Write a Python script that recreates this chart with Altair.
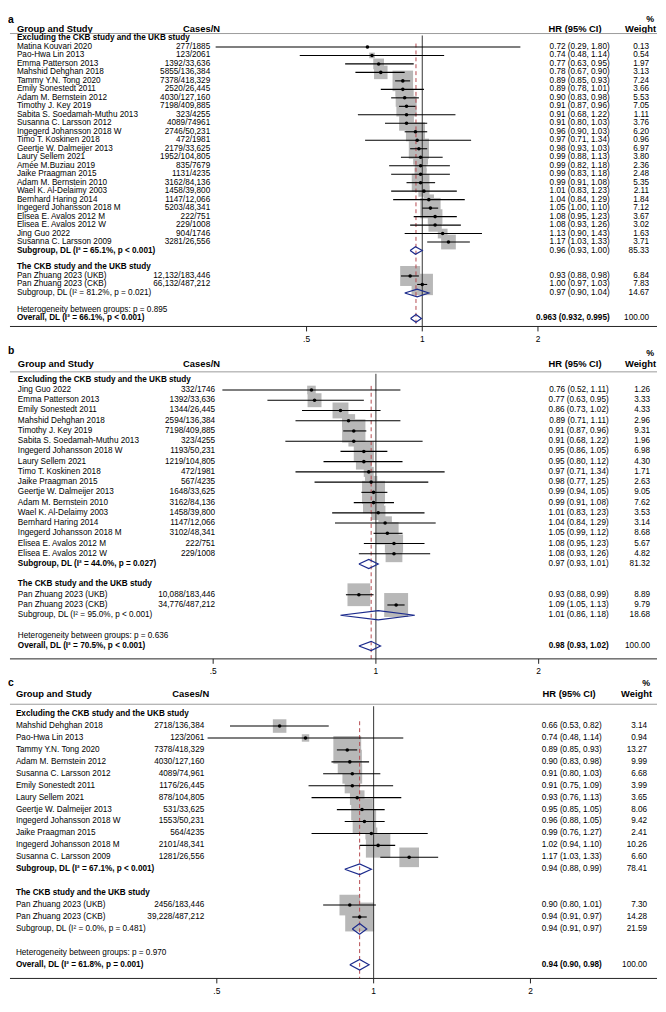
import altair as alt
import numpy as np
import pandas as pd

FONT = "Liberation Sans"
W = 658
FS = 8.3

G1_TITLE = "Excluding the CKB study and the UKB study"
G2_TITLE = "The CKB study and the UKB study"
TICKS = [0.5, 1, 2]
TICK_LABELS = [".5", "1", "2"]
PZ_NAMES = ["Pan Zhuang 2023 (UKB)", "Pan Zhuang 2023 (CKB)"]

# ---------------- panel a ----------------
A_NAMES = ["Matina Kouvari 2020", "Pao-Hwa Lin 2013", "Emma Patterson 2013", "Mahshid Dehghan 2018",
           "Tammy Y.N. Tong 2020", "Emily Sonestedt 2011", "Adam M. Bernstein 2012", "Timothy J. Key 2019",
           "Sabita S. Soedamah-Muthu 2013", "Susanna C. Larsson 2012", "Ingegerd Johansson 2018 W",
           "Timo T. Koskinen 2018", "Geertje W. Dalmeijer 2013", "Laury Sellem 2021", "Amée M.Buziau 2019",
           "Jaike Praagman 2015", "Adam M. Bernstein 2010", "Wael K. Al-Delaimy 2003", "Bernhard Haring 2014",
           "Ingegerd Johansson 2018 M", "Elisea E. Avalos 2012 M", "Elisea E. Avalos 2012 W", "Jing Guo 2022",
           "Susanna C. Larsson 2009"]
A_CASES = ["277/1885", "123/2061", "1392/33,636", "5855/136,384", "7378/418,329", "2520/26,445",
           "4030/127,160", "7198/409,885", "323/4255", "4089/74961", "2746/50,231", "472/1981",
           "2179/33,625", "1952/104,805", "835/7679", "1131/4235", "3162/84,136", "1458/39,800",
           "1147/12,066", "5203/48,341", "222/751", "229/1008", "904/1746", "3281/26,556"]
A_HR = [0.72, 0.74, 0.77, 0.78, 0.89, 0.89, 0.90, 0.91, 0.91, 0.91, 0.96, 0.97, 0.98, 0.99, 0.99, 0.99,
        0.99, 1.01, 1.04, 1.05, 1.08, 1.08, 1.13, 1.17]
A_LO = [0.29, 0.48, 0.63, 0.67, 0.85, 0.78, 0.83, 0.87, 0.68, 0.80, 0.90, 0.71, 0.93, 0.88, 0.82, 0.83,
        0.91, 0.83, 0.84, 1.00, 0.95, 0.93, 0.90, 1.03]
A_HI = [1.80, 1.14, 0.95, 0.90, 0.93, 1.01, 0.98, 0.96, 1.22, 1.03, 1.03, 1.34, 1.03, 1.13, 1.18, 1.18,
        1.08, 1.23, 1.29, 1.10, 1.23, 1.26, 1.43, 1.33]
A_W = [0.13, 0.54, 1.97, 3.13, 7.24, 3.66, 5.53, 7.05, 1.11, 3.76, 6.20, 0.96, 6.97, 3.80, 2.36, 2.48,
       5.35, 2.11, 1.84, 7.12, 3.67, 3.02, 1.63, 3.71]
A_PZ_CASES = ["12,132/183,446", "66,132/487,212"]
A_PZ_HR = [0.93, 1.00]
A_PZ_LO = [0.88, 0.97]
A_PZ_HI = [0.98, 1.03]
A_PZ_W = [6.84, 7.83]
A_SUB_LABELS = ["Subgroup, DL (I² = 65.1%, p < 0.001)", "Subgroup, DL (I² = 81.2%, p = 0.021)"]
A_SUB_HR = [0.96, 0.97]
A_SUB_LO = [0.93, 0.90]
A_SUB_HI = [1.00, 1.04]
A_SUB_W = [85.33, 14.67]
A_HET = "Heterogeneity between groups: p = 0.895"
A_OVR_LABEL = "Overall, DL (I² = 66.1%, p < 0.001)"
A_OVR = [0.963, 0.932, 0.995]
A_OVR_DIGITS = 3

# ---------------- panel b ----------------
B_NAMES = ["Jing Guo 2022", "Emma Patterson 2013", "Emily Sonestedt 2011", "Mahshid Dehghan 2018",
           "Timothy J. Key 2019", "Sabita S. Soedamah-Muthu 2013", "Ingegerd Johansson 2018 W",
           "Laury Sellem 2021", "Timo T. Koskinen 2018", "Jaike Praagman 2015", "Geertje W. Dalmeijer 2013",
           "Adam M. Bernstein 2010", "Wael K. Al-Delaimy 2003", "Bernhard Haring 2014",
           "Ingegerd Johansson 2018 M", "Elisea E. Avalos 2012 M", "Elisea E. Avalos 2012 W"]
B_CASES = ["332/1746", "1392/33,636", "1344/26,445", "2594/136,384", "7198/409,885", "323/4255",
           "1193/50,231", "1219/104,805", "472/1981", "567/4235", "1648/33,625", "3162/84,136",
           "1458/39,800", "1147/12,066", "3102/48,341", "222/751", "229/1008"]
B_HR = [0.76, 0.77, 0.86, 0.89, 0.91, 0.91, 0.95, 0.95, 0.97, 0.98, 0.99, 0.99, 1.01, 1.04, 1.05, 1.08, 1.08]
B_LO = [0.52, 0.63, 0.73, 0.71, 0.87, 0.68, 0.86, 0.80, 0.71, 0.77, 0.94, 0.91, 0.83, 0.84, 0.99, 0.95, 0.93]
B_HI = [1.11, 0.95, 1.02, 1.11, 0.96, 1.22, 1.05, 1.12, 1.34, 1.25, 1.05, 1.08, 1.23, 1.29, 1.12, 1.23, 1.26]
B_W = [1.26, 3.33, 4.33, 2.96, 9.31, 1.96, 6.98, 4.30, 1.71, 2.63, 9.05, 7.62, 3.53, 3.14, 8.68, 5.67, 4.82]
B_PZ_CASES = ["10,088/183,446", "34,776/487,212"]
B_PZ_HR = [0.93, 1.09]
B_PZ_LO = [0.88, 1.05]
B_PZ_HI = [0.99, 1.13]
B_PZ_W = [8.89, 9.79]
B_SUB_LABELS = ["Subgroup, DL (I² = 44.0%, p = 0.027)", "Subgroup, DL (I² = 95.0%, p < 0.001)"]
B_SUB_HR = [0.97, 1.01]
B_SUB_LO = [0.93, 0.86]
B_SUB_HI = [1.01, 1.18]
B_SUB_W = [81.32, 18.68]
B_HET = "Heterogeneity between groups: p = 0.636"
B_OVR_LABEL = "Overall, DL (I² = 70.5%, p < 0.001)"
B_OVR = [0.98, 0.93, 1.02]
B_OVR_DIGITS = 2

# ---------------- panel c ----------------
C_NAMES = ["Mahshid Dehghan 2018", "Pao-Hwa Lin 2013", "Tammy Y.N. Tong 2020", "Adam M. Bernstein 2012",
           "Susanna C. Larsson 2012", "Emily Sonestedt 2011", "Laury Sellem 2021", "Geertje W. Dalmeijer 2013",
           "Ingegerd Johansson 2018 W", "Jaike Praagman 2015", "Ingegerd Johansson 2018 M",
           "Susanna C. Larsson 2009"]
C_CASES = ["2718/136,384", "123/2061", "7378/418,329", "4030/127,160", "4089/74,961", "1176/26,445",
           "878/104,805", "531/33,625", "1553/50,231", "564/4235", "2101/48,341", "1281/26,556"]
C_HR = [0.66, 0.74, 0.89, 0.90, 0.91, 0.91, 0.93, 0.95, 0.96, 0.99, 1.02, 1.17]
C_LO = [0.53, 0.48, 0.85, 0.83, 0.80, 0.75, 0.76, 0.85, 0.88, 0.76, 0.94, 1.03]
C_HI = [0.82, 1.14, 0.93, 0.98, 1.03, 1.09, 1.13, 1.05, 1.05, 1.27, 1.10, 1.33]
C_W = [3.14, 0.94, 13.27, 9.99, 6.68, 3.99, 3.65, 8.06, 9.42, 2.41, 10.26, 6.60]
C_PZ_CASES = ["2456/183,446", "39,228/487,212"]
C_PZ_HR = [0.90, 0.94]
C_PZ_LO = [0.80, 0.91]
C_PZ_HI = [1.01, 0.97]
C_PZ_W = [7.30, 14.28]
C_SUB_LABELS = ["Subgroup, DL (I² = 67.1%, p < 0.001)", "Subgroup, DL (I² = 0.0%, p = 0.481)"]
C_SUB_HR = [0.94, 0.94]
C_SUB_LO = [0.88, 0.91]
C_SUB_HI = [0.99, 0.97]
C_SUB_W = [78.41, 21.59]
C_HET = "Heterogeneity between groups: p = 0.970"
C_OVR_LABEL = "Overall, DL (I² = 61.8%, p = 0.001)"
C_OVR = [0.94, 0.90, 0.98]
C_OVR_DIGITS = 2


def fmt(h, l, u, d=2):
    return f"{h:.{d}f} ({l:.{d}f}, {u:.{d}f})"


def build(names, cases, hr, lo, hi, w, pzc, pzh, pzl, pzu, pzw, subl, subh, sublo, subhi, subw,
          het, ovl, ovr, dig):
    rows = []
    r = [0]

    def add(**kw):
        base = dict(row=r[0], label="", bold=False, cases="", hrtxt="", hrbold=False, wtxt="",
                    est=np.nan, lo=np.nan, hi=np.nan, w=np.nan, kind="text")
        base.update(kw)
        rows.append(base)
        r[0] += 1

    add(label=G1_TITLE, bold=True)
    for i in range(len(names)):
        add(label=names[i], cases=cases[i], hrtxt=fmt(hr[i], lo[i], hi[i]), wtxt=f"{w[i]:.2f}",
            est=hr[i], lo=lo[i], hi=hi[i], w=w[i], kind="study")
    add(label=subl[0], bold=True, hrtxt=fmt(subh[0], sublo[0], subhi[0]), wtxt=f"{subw[0]:.2f}",
        est=subh[0], lo=sublo[0], hi=subhi[0], kind="diamond")
    r[0] += 1
    add(label=G2_TITLE, bold=True)
    for i in range(2):
        add(label=PZ_NAMES[i], cases=pzc[i], hrtxt=fmt(pzh[i], pzl[i], pzu[i]), wtxt=f"{pzw[i]:.2f}",
            est=pzh[i], lo=pzl[i], hi=pzu[i], w=pzw[i], kind="study")
    add(label=subl[1], hrtxt=fmt(subh[1], sublo[1], subhi[1]), wtxt=f"{subw[1]:.2f}",
        est=subh[1], lo=sublo[1], hi=subhi[1], kind="diamond")
    r[0] += 1
    add(label=het)
    add(label=ovl, bold=True, hrtxt=fmt(ovr[0], ovr[1], ovr[2], dig), hrbold=True, wtxt="100.00",
        est=ovr[0], lo=ovr[1], hi=ovr[2], kind="diamond")
    df = pd.DataFrame(rows)
    pts = []
    hh = 0.45
    for j, rw in df[df.kind == "diamond"].reset_index(drop=True).iterrows():
        for o, (xv, dy) in enumerate([(rw.lo, 0), (rw.est, -hh), (rw.hi, 0), (rw.est, hh), (rw.lo, 0)]):
            pts.append(dict(id=j, ord=o, xv=xv, yv=rw.row + dy))
    return df, pd.DataFrame(pts), ovr[0]


ONE = pd.DataFrame({"a": [0]})


def txt(text, x, y, align="left", size=9.5, bold=True, baseline="middle"):
    return alt.Chart(ONE).mark_text(text=text, align=align, baseline=baseline, font=FONT, fontSize=size,
                                    fontWeight="bold" if bold else "normal", color="black").encode(
        x=alt.value(x), y=alt.value(y))


def panel(letter, P, L):
    df, dia, ovr_est = P
    H = L["H"]
    lo_d = 2 ** (-L["x1"] / L["k"])
    hi_d = 2 ** ((W - L["x1"]) / L["k"])
    xs = alt.Scale(type="log", domain=[lo_d, hi_d], nice=False)
    y0, step = L["y0"], L["step"]
    ys = alt.Scale(domain=[-y0 / step, (H - y0) / step], reverse=True, nice=False, zero=False)
    Y = alt.Y("row:Q", scale=ys, axis=None)
    base = alt.Chart(df)
    ax = L["axis"]
    tick_df = pd.DataFrame({"v": TICKS, "lab": TICK_LABELS})
    layers = []
    # headers
    layers.append(txt(letter, 0, L["let"], size=10.5, baseline="top"))
    layers.append(txt("%", L["wh"] - 2, L["pct"], align="right", size=9, baseline="top"))
    layers.append(txt("Group and Study", L["nx"], L["head"]))
    layers.append(txt("Cases/N", L["chx"], L["head"], align="right"))
    layers.append(txt("HR (95% CI)", L["hhx"], L["head"]))
    layers.append(txt("Weight", L["wh"], L["head"], align="right"))
    layers.append(alt.Chart(ONE).mark_rule(color="#9a9a9a", strokeWidth=1).encode(
        x=alt.value(2), x2=alt.value(W), y=alt.value(L["line"])))
    # squares
    layers.append(base.transform_filter("datum.kind == 'study'").mark_square(
        color="#b8b8b8", opacity=1).encode(
        x=alt.X("est:Q", scale=xs, axis=None), y=Y,
        size=alt.Size("w:Q", scale=alt.Scale(domain=[0, 1], range=[0, L["sz"]]), legend=None)))
    # reference lines
    layers.append(alt.Chart(pd.DataFrame({"v": [1.0]})).mark_rule(color="#333333", strokeWidth=1).encode(
        x=alt.X("v:Q", scale=xs, axis=None), y=alt.value(L["line"] + 2), y2=alt.value(ax)))
    layers.append(alt.Chart(pd.DataFrame({"v": [ovr_est]})).mark_rule(
        color="#b5484e", strokeWidth=1, strokeDash=[4, 3]).encode(
        x=alt.X("v:Q", scale=xs, axis=None), y=alt.value(y0 + 0.6 * step), y2=alt.value(ax)))
    # CI lines and dots
    layers.append(base.transform_filter("datum.kind == 'study'").mark_rule(
        color="black", strokeWidth=1.1).encode(x=alt.X("lo:Q", scale=xs, axis=None), x2="hi:Q", y=Y))
    layers.append(base.transform_filter("datum.kind == 'study'").mark_circle(
        color="black", size=13, opacity=1).encode(x=alt.X("est:Q", scale=xs, axis=None), y=Y))
    # diamonds
    layers.append(alt.Chart(dia).mark_line(color="#1b2a8c", strokeWidth=1.2).encode(
        x=alt.X("xv:Q", scale=xs, axis=None), y=alt.Y("yv:Q", scale=ys, axis=None),
        detail="id:N", order="ord:Q"))
    # text columns
    layers.append(base.transform_filter("!datum.bold").mark_text(
        align="left", baseline="middle", font=FONT, fontSize=FS, color="black").encode(
        x=alt.value(L["nx"]), y=Y, text="label:N"))
    layers.append(base.transform_filter("datum.bold").mark_text(
        align="left", baseline="middle", font=FONT, fontSize=FS, fontWeight="bold", color="black").encode(
        x=alt.value(L["nx"]), y=Y, text="label:N"))
    layers.append(base.mark_text(align="right", baseline="middle", font=FONT, fontSize=FS, color="black").encode(
        x=alt.value(L["cx"]), y=Y, text="cases:N"))
    layers.append(base.transform_filter("!datum.hrbold").mark_text(
        align="right", baseline="middle", font=FONT, fontSize=FS, color="black").encode(
        x=alt.value(L["hx"]), y=Y, text="hrtxt:N"))
    layers.append(base.transform_filter("datum.hrbold").mark_text(
        align="right", baseline="middle", font=FONT, fontSize=FS, fontWeight="bold", color="black").encode(
        x=alt.value(L["hx"]), y=Y, text="hrtxt:N"))
    layers.append(base.mark_text(align="right", baseline="middle", font=FONT, fontSize=FS, color="black").encode(
        x=alt.value(L["wx"]), y=Y, text="wtxt:N"))
    # axis
    layers.append(alt.Chart(ONE).mark_rule(color="#222222", strokeWidth=1).encode(
        x=alt.value(2), x2=alt.value(W), y=alt.value(ax)))
    layers.append(alt.Chart(tick_df).mark_rule(color="#222222", strokeWidth=1).encode(
        x=alt.X("v:Q", scale=xs, axis=None), y=alt.value(ax), y2=alt.value(ax + 5)))
    layers.append(alt.Chart(tick_df).mark_text(baseline="middle", font=FONT, fontSize=8.5, color="black").encode(
        x=alt.X("v:Q", scale=xs, axis=None), y=alt.value(L["lab"]), text="lab:N"))
    return alt.layer(*layers).properties(width=W, height=H)


PA = build(A_NAMES, A_CASES, A_HR, A_LO, A_HI, A_W, A_PZ_CASES, A_PZ_HR, A_PZ_LO, A_PZ_HI, A_PZ_W,
           A_SUB_LABELS, A_SUB_HR, A_SUB_LO, A_SUB_HI, A_SUB_W, A_HET, A_OVR_LABEL, A_OVR, A_OVR_DIGITS)
PB = build(B_NAMES, B_CASES, B_HR, B_LO, B_HI, B_W, B_PZ_CASES, B_PZ_HR, B_PZ_LO, B_PZ_HI, B_PZ_W,
           B_SUB_LABELS, B_SUB_HR, B_SUB_LO, B_SUB_HI, B_SUB_W, B_HET, B_OVR_LABEL, B_OVR, B_OVR_DIGITS)
PC = build(C_NAMES, C_CASES, C_HR, C_LO, C_HI, C_W, C_PZ_CASES, C_PZ_HR, C_PZ_LO, C_PZ_HI, C_PZ_W,
           C_SUB_LABELS, C_SUB_HR, C_SUB_LO, C_SUB_HI, C_SUB_W, C_HET, C_OVR_LABEL, C_OVR, C_OVR_DIGITS)

LA = dict(H=334, let=0, pct=0, head=14, line=19, y0=24, step=8.6, axis=316, lab=329,
          x1=420, k=117.3, sz=60, nx=9, cx=205, chx=215, hx=610, hhx=548, wx=650, wh=657)
LB = dict(H=338, let=2, pct=5, head=20, line=28, y0=36, step=10.38, axis=319, lab=331,
          x1=373, k=165, sz=10, nx=10, cx=210, chx=215, hx=609, hhx=548, wx=651, wh=657)
LC = dict(H=322, let=1, pct=2, head=17, line=27, y0=37, step=12.1, axis=305, lab=318,
          x1=370.7, k=159, sz=12.5, nx=8, cx=199, chx=204, hx=602, hhx=542, wx=648, wh=653)

chart = alt.vconcat(panel("a", PA, LA), panel("b", PB, LB), panel("c", PC, LC), spacing=0).properties(
    padding=0).configure_view(stroke=None)

chart.save("out.html", embed_options={"renderer": "svg", "actions": False})
